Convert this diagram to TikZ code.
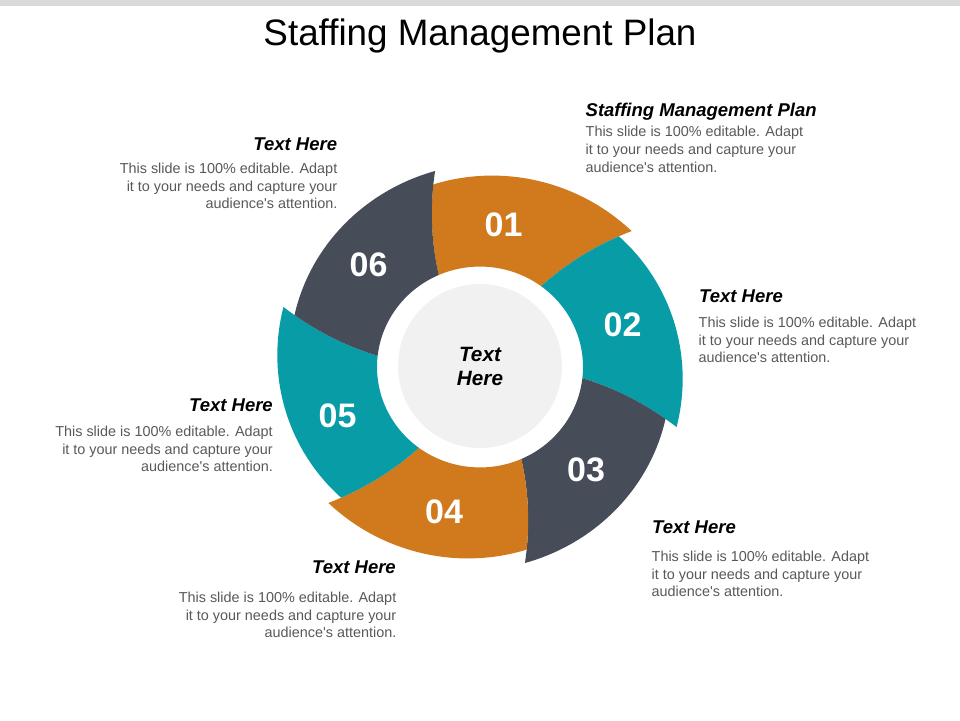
\documentclass[tikz,border=0pt]{standalone}
\usepackage{fontspec}
\setmainfont{Liberation Sans}
\definecolor{segorange}{HTML}{D07A1D}
\definecolor{segteal}{HTML}{079CA6}
\definecolor{segdark}{HTML}{464C58}
\definecolor{bodygray}{HTML}{595959}
\definecolor{hubgray}{HTML}{F1F1F1}
\definecolor{bargray}{HTML}{D9D9D9}
\begin{document}
\begin{tikzpicture}[x=1pt,y=-1pt,
  num/.style={text=white,font=\fontsize{34}{34}\selectfont\bfseries,inner sep=0pt},
  head/.style={font=\fontsize{18.5}{22}\selectfont\bfseries\itshape,inner sep=0pt,text=black},
  body/.style={font=\fontsize{14.4}{17.6}\selectfont,text=bodygray,inner sep=0pt},
  bodyl/.style={body,align=left,anchor=north west},
  bodyr/.style={body,align=right,anchor=north east},
]
\useasboundingbox (0,0) rectangle (960,720);
\fill[white] (0,0) rectangle (960,720);
\fill[bargray] (0,0) rectangle (960,6);
\node[font=\fontsize{36.8}{40}\selectfont, anchor=base, inner sep=0pt] (title) at (480,45.7) {Staffing Management Plan};

\begin{scope}[shift={(480,367)}, yscale=-0.975]
 \foreach \ta/\col in {102.6/segorange, 42.6/segteal, -17.4/segdark, -77.4/segorange, -137.4/segteal, -197.4/segdark}{
   \fill[\col] plot[domain=0:0.874,samples=20,variable=\v] ({\ta+11*(1-\v)}:{103+103*\v})
     -- plot[domain=0:1,samples=60,variable=\u] ({\ta+1.4-61.4*\u}:{193+13*\u})
     -- plot[domain=0:1,samples=20,variable=\v] ({\ta-60+11*\v}:{206-103*\v})
     -- plot[domain=0:1,samples=40,variable=\w] ({\ta-49+60*\w}:103) -- cycle;
 }
\end{scope}
\node[circle, fill=hubgray, minimum size=164pt, inner sep=0pt] (hub) at (480,366) {};
\node[font=\fontsize{20.7}{24.3}\selectfont\bfseries\itshape, align=center, anchor=north, inner sep=0pt] (hubtext) at (480,346.9) {Text\\Here};

\node[num] (n1) at (503.5,225) {01};
\node[num] (n2) at (622.5,324.5) {02};
\node[num] (n3) at (586,470) {03};
\node[num] (n4) at (444,511.5) {04};
\node[num] (n5) at (337.5,415.5) {05};
\node[num] (n6) at (368.5,264.5) {06};

\newcommand{\bodytxt}{This slide is 100\% editable.  Adapt\\it to your needs and capture your\\audience\textquotesingle s attention.}

\node[head, anchor=base west] (h1) at (585.5,116.7) {Staffing Management Plan};
\node[bodyl] (b1) at (585.5,126.2) {\bodytxt};
\node[head, anchor=base east] (h6) at (337.3,150.7) {Text Here};
\node[bodyr] (b6) at (337.5,162.8) {\bodytxt};
\node[head, anchor=base west] (h2) at (699,302) {Text Here};
\node[bodyl] (b2) at (698.5,317) {\bodytxt};
\node[head, anchor=base east] (h5) at (273,411) {Text Here};
\node[bodyr] (b5) at (273,426) {\bodytxt};
\node[head, anchor=base west] (h3) at (652,533) {Text Here};
\node[bodyl] (b3) at (651.5,551) {\bodytxt};
\node[head, anchor=base east] (h4) at (396,573) {Text Here};
\node[bodyr] (b4) at (396.5,592) {\bodytxt};
\end{tikzpicture}
\end{document}
